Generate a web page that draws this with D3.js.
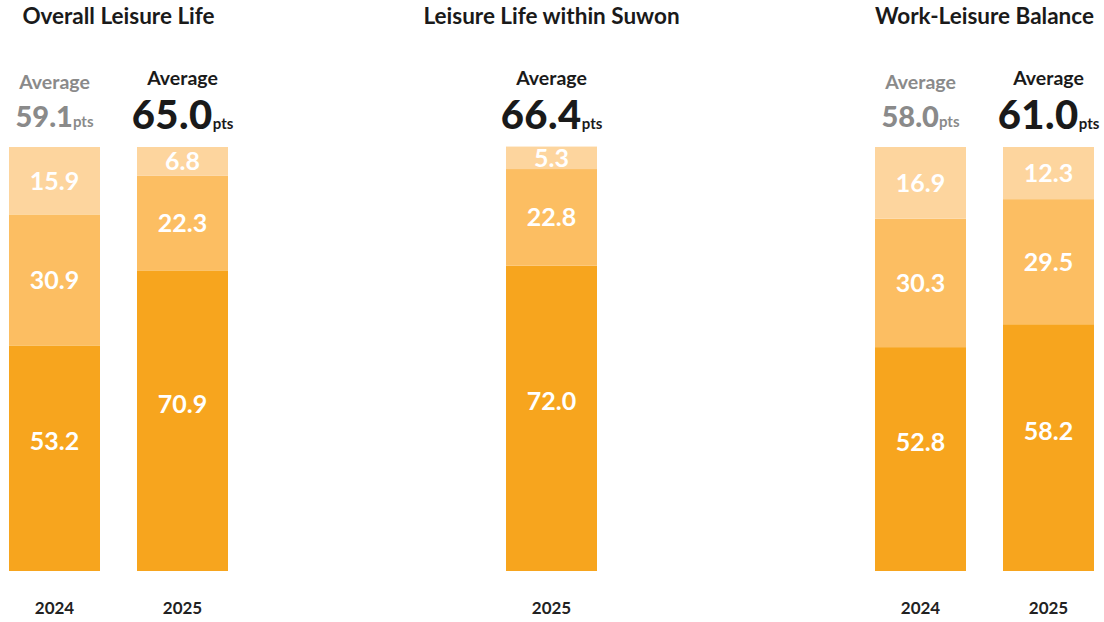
<!DOCTYPE html>
<html><head><meta charset="utf-8">
<script src="https://cdn.jsdelivr.net/npm/d3@7"></script>
<style>
html,body{margin:0;padding:0;background:#fff;}
text{font-family:Lato,"Noto Sans",sans-serif;}
</style></head>
<body><svg id="c" width="1104" height="622"></svg>
<script>
// ---- data ----
const groups = ["Overall Leisure Life", "Leisure Life within Suwon", "Work-Leisure Balance"];
const years = ["2024", "2025"];
const segments = ["high", "mid", "low"]; // bottom -> top
const barGroup = ["Overall Leisure Life", "Overall Leisure Life", "Leisure Life within Suwon", "Work-Leisure Balance", "Work-Leisure Balance"];
const barYear  = ["2024", "2025", "2025", "2024", "2025"];
const highValues = [53.2, 70.9, 72.0, 52.8, 58.2];
const midValues  = [30.9, 22.3, 22.8, 30.3, 29.5];
const lowValues  = [15.9, 6.8, 5.3, 16.9, 12.3];
const averages   = [59.1, 65.0, 66.4, 58.0, 61.0];
const colors = {high: "#F7A51E", mid: "#FCBE62", low: "#FDD59E"};

const svg = d3.select("#c");

const gx = d3.scalePoint().domain(groups).range([118.5, 984.5]);
const groupYears = g => barYear.filter((y, i) => barGroup[i] === g);
const barW = 91;
const y = d3.scaleLinear().domain([0, 100]).range([571, 147]);

const bars = barGroup.map((g, i) => {
  const ys = groupYears(g);
  const inner = d3.scalePoint().domain(ys).range(ys.length > 1 ? [-64, 64] : [0, 0]);
  const cx = gx(g) + inner(barYear[i]);
  return {g, year: barYear[i], cx, vals: {high: highValues[i], mid: midValues[i], low: lowValues[i]}, avg: averages[i]};
});

// titles
svg.selectAll("text.title").data(groups).join("text")
  .attr("class", "title")
  .attr("x", d => gx(d)).attr("y", 24)
  .attr("text-anchor", "middle")
  .attr("font-size", 22.5).attr("font-weight", 700).attr("fill", "#1a1a1a")
  .text(d => d);

const stack = d3.stack().keys(segments).value((d, k) => d.vals[k]);
const series = stack(bars);

series.forEach(s => {
  const key = s.key;
  s.forEach((seg, i) => {
    const b = bars[i];
    svg.append("rect")
      .attr("x", b.cx - barW / 2).attr("width", barW)
      .attr("y", y(seg[1])).attr("height", y(seg[0]) - y(seg[1]))
      .attr("fill", colors[key]);
    const mid = (y(seg[0]) + y(seg[1])) / 2 - (key === "high" ? 17 : 0);
    svg.append("text")
      .attr("x", b.cx).attr("y", mid)
      .attr("dy", "0.36em")
      .attr("text-anchor", "middle")
      .attr("font-size", 25).attr("font-weight", 700).attr("fill", "#fff")
      .text(d3.format(".1f")(b.vals[key]));
  });
});

// averages & year labels
bars.forEach(b => {
  const latest = b.year === "2025";
  const col = latest ? "#1a1a1a" : "#8a8a8a";
  svg.append("text")
    .attr("x", b.cx).attr("y", latest ? 85 : 89)
    .attr("text-anchor", "middle")
    .attr("font-size", 19.5).attr("font-weight", 700).attr("fill", col)
    .text("Average");
  const t = svg.append("text")
    .attr("x", b.cx).attr("y", latest ? 129 : 127)
    .attr("text-anchor", "middle").attr("fill", col).attr("font-weight", 900);
  t.append("tspan").attr("font-size", latest ? 40 : 29).attr("letter-spacing", latest ? 0.5 : 0).text(d3.format(".1f")(b.avg));
  t.append("tspan").attr("font-size", 15).attr("font-weight", 700).text("pts");
  svg.append("text")
    .attr("x", b.cx).attr("y", 614)
    .attr("text-anchor", "middle")
    .attr("font-family", "'Open Sans', sans-serif")
    .attr("font-size", 17).attr("font-weight", 700).attr("fill", "#222")
    .text(b.year);
});
</script></body></html>
